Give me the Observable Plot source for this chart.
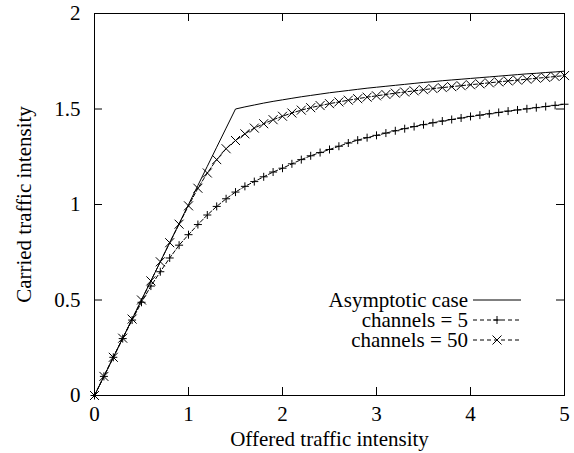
<!DOCTYPE html>
<html><head><meta charset="utf-8">
<script src="https://cdn.jsdelivr.net/npm/d3@7"></script>
<script src="https://cdn.jsdelivr.net/npm/@observablehq/plot@0.6"></script>
<style>body{margin:0;background:#fff}</style>
</head><body><div id="chart"></div>
<script>
const offered = [0,0.1,0.2,0.3,0.4,0.5,0.6,0.7,0.8,0.9,1.0,1.1,1.2,1.3,1.4,1.5,1.6,1.7,1.8,1.9,2.0,2.1,2.2,2.3,2.4,2.5,2.6,2.7,2.8,2.9,3.0,3.1,3.2,3.3,3.4,3.5,3.6,3.7,3.8,3.9,4.0,4.1,4.2,4.3,4.4,4.5,4.6,4.7,4.8,4.9,5.0];
const asymptotic = [0,0.1,0.2,0.3,0.4,0.5,0.6,0.7,0.8,0.9,1.0,1.1,1.2,1.3,1.4,1.5,1.511,1.521,1.531,1.54,1.548,1.556,1.564,1.571,1.578,1.585,1.591,1.597,1.603,1.609,1.614,1.619,1.624,1.629,1.634,1.639,1.643,1.648,1.652,1.656,1.66,1.664,1.668,1.672,1.676,1.68,1.684,1.687,1.691,1.694,1.698];
const channels5 = [0,0.1,0.2,0.298,0.395,0.488,0.573,0.648,0.72,0.787,0.842,0.895,0.945,0.99,1.03,1.065,1.095,1.12,1.145,1.17,1.19,1.213,1.235,1.255,1.272,1.288,1.305,1.322,1.337,1.35,1.362,1.374,1.386,1.397,1.408,1.418,1.428,1.437,1.445,1.453,1.461,1.468,1.475,1.482,1.489,1.495,1.501,1.507,1.513,1.519,1.525];
const channels50 = [0,0.1,0.2,0.3,0.4,0.5,0.6,0.7,0.8,0.897,0.993,1.085,1.165,1.235,1.292,1.335,1.37,1.4,1.423,1.444,1.462,1.479,1.494,1.507,1.518,1.528,1.537,1.546,1.554,1.562,1.569,1.576,1.583,1.589,1.595,1.601,1.607,1.612,1.617,1.622,1.627,1.632,1.637,1.642,1.647,1.651,1.656,1.661,1.665,1.67,1.675];
const xTicks = [0,1,2,3,4,5];
const yTicks = [0,0.5,1,1.5,2];
const seriesLabels = ["Asymptotic case","channels = 5","channels = 50"];
const xLabel = "Offered traffic intensity";
const yLabel = "Carried traffic intensity";

const W = 574, H = 453, mL = 94, mR = 10, mT = 13, mB = 58;
const frameW = W - mL - mR, frameH = H - mT - mB, tick = 8;
const FONT = "'Liberation Serif', 'Times New Roman', Times, 'DejaVu Serif', serif";

const plusSym = {draw(ctx, size){const r = Math.sqrt(size/Math.PI); ctx.moveTo(-r,0); ctx.lineTo(r,0); ctx.moveTo(0,-r); ctx.lineTo(0,r);}};
const timesSym = {draw(ctx, size){const r = Math.sqrt(size/Math.PI); ctx.moveTo(-r,-r); ctx.lineTo(r,r); ctx.moveTo(-r,r); ctx.lineTo(r,-r);}};

const rowsA = offered.map((x,i)=>({x, y: asymptotic[i]}));
const rows5 = offered.map((x,i)=>({x, y: channels5[i]}));
const rows50 = offered.map((x,i)=>({x, y: channels50[i]}));

const plot = Plot.plot({
  width: W, height: H,
  marginLeft: mL, marginRight: mR, marginTop: mT, marginBottom: mB,
  style: {fontFamily: FONT, fontSize: "21px", color: "black", background: "white", overflow: "visible"},
  x: {domain: [0,5]},
  y: {domain: [0,2]},
  marks: [
    Plot.line(rowsA, {x: "x", y: "y", stroke: "black", strokeWidth: 1}),
    Plot.line(rows5, {x: "x", y: "y", stroke: "black", strokeWidth: 1, strokeDasharray: "4,2"}),
    Plot.line(rows50, {x: "x", y: "y", stroke: "black", strokeWidth: 1, strokeDasharray: "4,2"}),
    Plot.dot(rows5, {x: "x", y: "y", symbol: plusSym, r: 4, stroke: "black", fill: "none", strokeWidth: 1}),
    Plot.dot(rows50, {x: "x", y: "y", symbol: timesSym, r: 4.5, stroke: "black", fill: "none", strokeWidth: 1}),
    Plot.tickX(xTicks, {x: d => d, insetTop: frameH - tick, stroke: "black"}),
    Plot.tickX(xTicks, {x: d => d, insetBottom: frameH - tick, stroke: "black"}),
    Plot.tickY(yTicks, {y: d => d, insetRight: frameW - tick, stroke: "black"}),
    Plot.tickY(yTicks, {y: d => d, insetLeft: frameW - tick, stroke: "black"}),
    Plot.frame({stroke: "black", strokeWidth: 1}),
    Plot.axisX({ticks: xTicks, tickSize: 0, tickPadding: 11, tickFormat: d => String(d), label: xLabel, labelArrow: "none", labelAnchor: "center", labelOffset: 50}),
    Plot.axisY({ticks: yTicks, tickSize: 0, tickPadding: 14, tickFormat: d => String(d), label: yLabel, labelArrow: "none", labelAnchor: "center", labelOffset: 78})
  ]
});
document.getElementById("chart").appendChild(plot);

// Legend drawn inside the frame (bottom-right region)
const sx = plot.scale("x"), sy = plot.scale("y");
const right = sx.range[1], bottom = sy.range[0];
const svg = d3.select(plot);
const leg = svg.append("g").attr("font-family", FONT).attr("font-size", 21);
seriesLabels.forEach((lab, i) => {
  const cy = bottom - 95 + i * 20;
  leg.append("text").attr("x", right - 96).attr("y", cy).attr("dy", "0.34em").attr("text-anchor", "end").attr("fill", "black").text(lab);
  const line = leg.append("line").attr("x1", right - 91).attr("x2", right - 43).attr("y1", cy).attr("y2", cy).attr("stroke", "black").attr("stroke-width", 1);
  if (i > 0) line.attr("stroke-dasharray", "4,3");
  const mx = right - 67;
  if (i === 1) leg.append("path").attr("d", `M${mx-4},${cy}H${mx+4}M${mx},${cy-4}V${cy+4}`).attr("stroke", "black").attr("fill", "none");
  if (i === 2) leg.append("path").attr("d", `M${mx-4.5},${cy-4.5}L${mx+4.5},${cy+4.5}M${mx-4.5},${cy+4.5}L${mx+4.5},${cy-4.5}`).attr("stroke", "black").attr("fill", "none");
});
</script>
</body></html>
